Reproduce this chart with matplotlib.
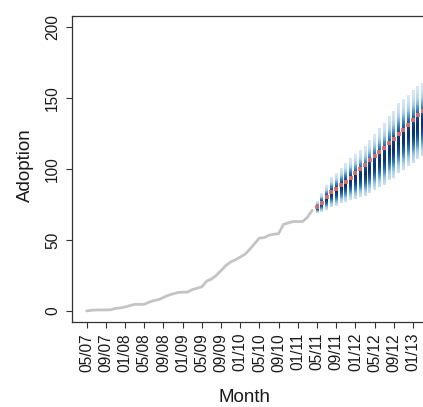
import numpy as np
import matplotlib
matplotlib.use("Agg")
import matplotlib.pyplot as plt
from matplotlib.colors import LinearSegmentedColormap

plt.rcParams['font.family'] = ['Liberation Sans', 'DejaVu Sans']

# ---- data ----
tick_labels = ["05/07", "09/07", "01/08", "05/08", "09/08", "01/09", "05/09", "09/09",
               "01/10", "05/10", "09/10", "01/11", "05/11", "09/11", "01/12", "05/12",
               "09/12", "01/13"]
tick_months = [0, 4, 8, 12, 16, 20, 24, 28, 32, 36, 40, 44, 48, 52, 56, 60, 64, 68]

# observed adoption, monthly from 05/07 (month index 0) to 04/11 (index 47)
observed = [0, 0.5, 0.7, 0.7, 0.7, 0.8, 1.8, 2.1, 2.8, 3.8, 4.6, 4.6, 4.7, 6.2, 7.3, 8.0,
            9.5, 11.0, 12.0, 13.0, 13.2, 13.3, 15.0, 16.0, 17.0, 21.0, 22.5, 25.0, 28.5,
            32.0, 34.5, 36.0, 38.0, 40.0, 43.5, 47.5, 51.4, 51.6, 53.4, 54.0, 54.5, 61.0,
            62.0, 63.0, 63.0, 63.0, 66.0, 71.0]

# forecast columns, month index 48 (05/11) onwards
fc_median = [73, 76, 80, 84, 86, 89, 91, 94, 97, 100, 103, 106, 109, 112, 115, 118, 121,
             124.5, 127.5, 131, 134.5, 138, 141]
fc_low = [69, 70, 71, 73, 74, 76, 77, 78, 79, 80, 81, 83, 85, 87, 89, 92, 94, 97, 99,
          102, 104, 107, 109]
fc_high = [77, 83, 88, 94, 97, 100, 104, 107, 110, 113, 116, 120, 124, 128, 132, 137, 141,
           146, 149, 152, 155, 158, 160]

# ---- figure ----
W, H = 423, 407
fig = plt.figure(figsize=(W / 100, H / 100), dpi=100)
left_px, right_px, top_px, bot_px = 72.3, 461.0, 15.7, 322.3
ax = fig.add_axes([left_px / W, 1 - bot_px / H, (right_px - left_px) / W, (bot_px - top_px) / H])

obs_x = np.arange(len(observed))
ax.plot(obs_x, observed, color="#c4c4c4", lw=2.0, solid_capstyle="round", zorder=2)

cmap = LinearSegmentedColormap.from_list(
    "fc", ["#c4ddf0", "#94c3e3", "#5a9fd0", "#2f74b3", "#12529a", "#0a3470"])
n = 160
t = np.linspace(0, 1, n)
dens = np.exp(-0.5 * ((t - 0.45) / 0.2) ** 2)
rgba = cmap(dens)
rgba[:, 3] = np.clip(0.6 + 1.0 * dens, 0, 1)
img = rgba.reshape(n, 1, 4)

fc_x = np.arange(len(observed), len(observed) + len(fc_median))
half_w = 0.28
for x, lo, hi in zip(fc_x, fc_low, fc_high):
    ax.imshow(img, extent=(x - half_w, x + half_w, lo, hi), origin="lower",
              aspect="auto", interpolation="bilinear", zorder=3)

ax.plot(fc_x, fc_median, ls="none", marker="s", ms=2.3, mew=0, color="#e8726a",
        alpha=0.9, zorder=4)

ax.set_xlim(-3, 78)
ax.set_ylim(-8, 208)
ax.set_xticks(tick_months)
ax.set_xticklabels(tick_labels, rotation=90, fontsize=11.2)
ax.set_yticks([0, 50, 100, 150, 200])
ax.set_yticklabels(["0", "50", "100", "150", "200"], rotation=90, va="center", fontsize=11.2)
ax.tick_params(axis="both", length=4.2, width=0.8, color="#333333", labelcolor="#1a1a1a")
ax.tick_params(axis="x", pad=3.5)
ax.tick_params(axis="y", pad=4.5)
for s in ax.spines.values():
    s.set_color("#333333")
    s.set_linewidth(0.9)

fig.text(245 / W, 1 - 398 / H, "Month", ha="center", va="center", fontsize=13.5, color="#1a1a1a")
fig.text(25 / W, 1 - 165 / H, "Adoption", ha="center", va="center", rotation=90,
         fontsize=13.5, color="#1a1a1a")

fig.savefig("out.png", dpi=100)
